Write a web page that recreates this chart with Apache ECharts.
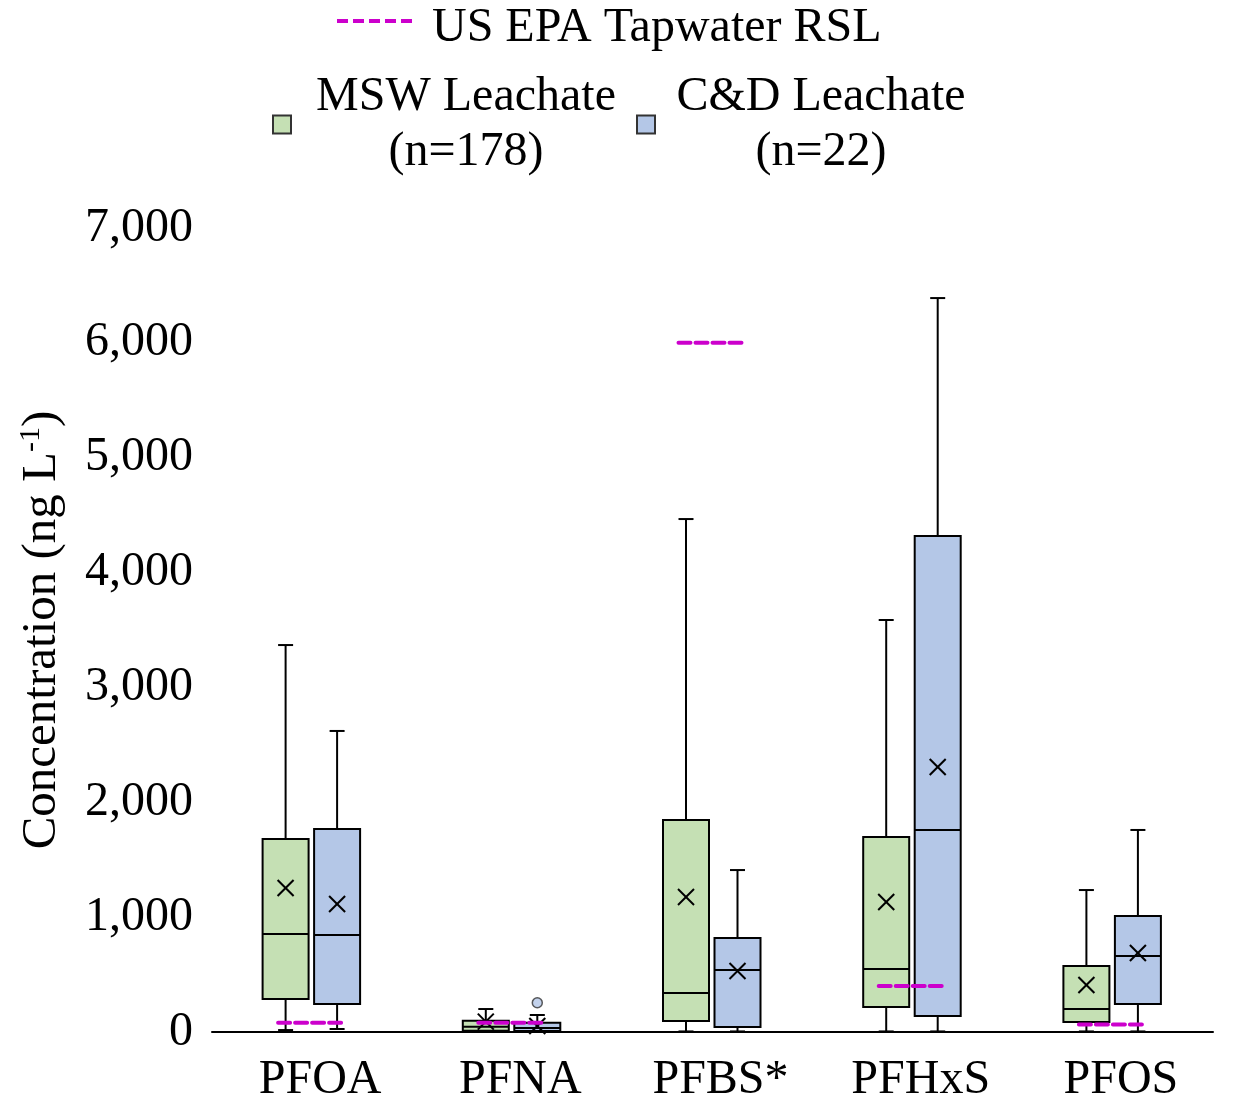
<!DOCTYPE html>
<html>
<head>
<meta charset="utf-8">
<script src="https://cdn.jsdelivr.net/npm/echarts@6/dist/echarts.min.js"></script>
<style>
  html, body { margin: 0; padding: 0; background: #fff; }
  #main { width: 1239px; height: 1098px; }
</style>
</head>
<body>
<div id="main"></div>
<script>
// 化合物
var compounds = ['PFOA', 'PFNA', 'PFBS*', 'PFHxS', 'PFOS'];
// [min, q1, median, q3, max, mean]
var mswStats = [
  [17, 287, 853, 1680, 3369, 1254],
  [0, 11, 46, 98, 200, 90],
  [5, 96, 340, 1846, 4466, 1175],
  [5, 218, 548, 1698, 3587, 1132],
  [5, 87, 200, 575, 1236, 409]
];
var cdStats = [
  [26, 244, 845, 1767, 2621, 1114],
  [0, 9, 35, 81, 148, 52],
  [5, 44, 540, 818, 1410, 531],
  [5, 139, 1759, 4318, 6390, 2307],
  [5, 244, 662, 1010, 1759, 688]
];
var cdOutliers = [[1, 255]];
var rslValues = [80, 80, 6000, 400, 65];
var yTicks = [0, 1000, 2000, 3000, 4000, 5000, 6000, 7000];

var fontFam = '"Liberation Serif", "Times New Roman", serif';
var fs = 48;
var mswColor = '#C5E0B4';
var cdColor = '#B4C7E7';
var rslColor = '#CC00CC';

function withIndex(stats) {
  return stats.map(function (s, i) { return [i].concat(s); });
}

// 箱线图：偏移量按像素
function boxRenderer(offset, fill) {
  return function (params, api) {
    var idx = api.value(0);
    var cx = api.coord([idx, 0])[0] + offset;
    var y = function (dim) { return api.coord([idx, api.value(dim)])[1]; };
    var yMin = y(1), yQ1 = y(2), yMed = y(3), yQ3 = y(4), yMax = y(5), yMean = y(6);
    var hw = 23, cap = 7.5, m = 8;
    var ls = { stroke: '#000', lineWidth: 2 };
    return {
      type: 'group',
      children: [
        { type: 'line', shape: { x1: cx, y1: yMin, x2: cx, y2: yQ1 }, style: ls },
        { type: 'line', shape: { x1: cx, y1: yQ3, x2: cx, y2: yMax }, style: ls },
        { type: 'line', shape: { x1: cx - cap, y1: yMin, x2: cx + cap, y2: yMin }, style: ls },
        { type: 'line', shape: { x1: cx - cap, y1: yMax, x2: cx + cap, y2: yMax }, style: ls },
        { type: 'rect', shape: { x: cx - hw, y: yQ3, width: hw * 2, height: yQ1 - yQ3 },
          style: { fill: fill, stroke: '#000', lineWidth: 2 } },
        { type: 'line', shape: { x1: cx - hw, y1: yMed, x2: cx + hw, y2: yMed }, style: ls },
        { type: 'line', shape: { x1: cx - m, y1: yMean - m, x2: cx + m, y2: yMean + m }, style: ls },
        { type: 'line', shape: { x1: cx - m, y1: yMean + m, x2: cx + m, y2: yMean - m }, style: ls }
      ]
    };
  };
}

function rslRenderer(params, api) {
  var p = api.coord([api.value(0), api.value(1)]);
  return {
    type: 'line',
    shape: { x1: p[0] - 34, y1: p[1], x2: p[0] + 34, y2: p[1] },
    style: { stroke: rslColor, lineWidth: 4, lineDash: [12, 5], lineCap: 'round' }
  };
}

// 虚线图例（下方加一个零面积的路径，让虚线偏上）
var dashIcon = 'path://M0,0h11v4h-11z M16,0h11v4h-11z M32,0h11v4h-11z M48,0h11v4h-11z M64,0h11v4h-11z M0,18h75v0h-75z';

var myChart = echarts.init(document.getElementById('main'));
myChart.setOption({
  animation: false,
  textStyle: { fontFamily: fontFam },
  legend: [
    {
      data: [{ name: 'US EPA Tapwater RSL', icon: dashIcon, itemStyle: { color: rslColor, borderWidth: 0 } }],
      left: 337,
      top: 3,
      padding: 0,
      itemWidth: 75,
      itemHeight: 18,
      textStyle: { fontFamily: fontFam, fontSize: fs, color: '#000', lineHeight: 50, padding: [0, 0, 0, 15] }
    },
    {
      data: ['MSW Leachate', 'C&D Leachate'],
      left: 272,
      top: 73,
      padding: 0,
      itemWidth: 18,
      itemHeight: 18,
      itemGap: 0,
      icon: 'rect',
      itemStyle: { borderColor: '#333', borderWidth: 2 },
      formatter: function (name) {
        var n = name === 'MSW Leachate' ? '(n=178)' : '(n=22)';
        var k = name === 'MSW Leachate' ? 'm' : 'c';
        return '{' + k + '|' + name + '}\n{' + k + '|' + n + '}';
      },
      textStyle: {
        fontFamily: fontFam,
        color: '#000',
        rich: {
          m: { fontFamily: fontFam, fontSize: fs, lineHeight: 55, width: 340, align: 'center', color: '#000' },
          c: { fontFamily: fontFam, fontSize: fs, lineHeight: 55, width: 322, align: 'center', color: '#000' }
        }
      }
    }
  ],
  grid: { left: 212, right: 26, top: 228, bottom: 66, outerBoundsMode: 'none', containLabel: false },
  xAxis: {
    type: 'category',
    data: compounds,
    axisLine: { lineStyle: { color: '#000', width: 2 } },
    axisTick: { show: false },
    axisLabel: { fontFamily: fontFam, fontSize: fs, color: '#000', margin: 24, padding: [0, 0, 0, 16] }
  },
  yAxis: {
    type: 'value',
    min: 0,
    max: 7000,
    interval: 1000,
    axisLine: { show: false },
    axisTick: { show: false },
    splitLine: { show: false },
    axisLabel: { fontFamily: fontFam, fontSize: fs, color: '#000', margin: 19, padding: [6, 0, 0, 0] },
    name: '{a|Concentration (ng L}{s|-1}{a|)}',
    nameLocation: 'middle',
    nameRotate: 90,
    nameGap: 144,
    nameTextStyle: {
      rich: {
        a: { fontFamily: fontFam, fontSize: 49, lineHeight: 52, color: '#000' },
        s: { fontFamily: fontFam, fontSize: 30, lineHeight: 52, verticalAlign: 'top', color: '#000' }
      }
    }
  },
  series: [
    {
      name: 'MSW Leachate',
      type: 'custom',
      itemStyle: { color: mswColor },
      encode: { x: 0, y: [1, 2, 3, 4, 5, 6] },
      renderItem: boxRenderer(-26.5, mswColor),
      data: withIndex(mswStats)
    },
    {
      name: 'C&D Leachate',
      type: 'custom',
      itemStyle: { color: cdColor },
      encode: { x: 0, y: [1, 2, 3, 4, 5, 6] },
      renderItem: boxRenderer(25, cdColor),
      data: withIndex(cdStats)
    },
    {
      name: 'C&D outliers',
      type: 'scatter',
      symbol: 'circle',
      symbolSize: 10,
      symbolOffset: [25, 0],
      itemStyle: { color: cdColor, borderColor: '#333', borderWidth: 1.5 },
      data: cdOutliers
    },
    {
      name: 'US EPA Tapwater RSL',
      type: 'custom',
      itemStyle: { color: rslColor },
      encode: { x: 0, y: 1 },
      renderItem: rslRenderer,
      data: rslValues.map(function (v, i) { return [i, v]; })
    }
  ]
});
</script>
</body>
</html>
